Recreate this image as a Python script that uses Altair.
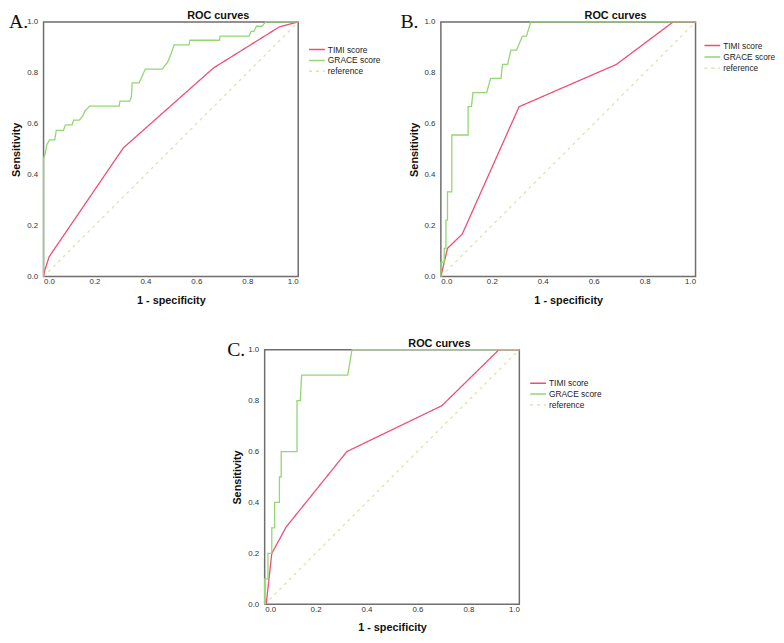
import altair as alt
import pandas as pd

series_names = ["TIMI score", "GRACE score", "reference"]
series_colors = ["#EF4D76", "#93D672", "#DEE2B0"]
series_dash = [[1, 0], [1, 0], [3, 4]]
panel_labels = ["A.", "B.", "C."]
panel_title = "ROC curves"
x_title = "1 - specificity"
y_title = "Sensitivity"
tick_values = [0.0, 0.2, 0.4, 0.6, 0.8, 1.0]
ref_x = [0.0, 1.0]
ref_y = [0.0, 1.0]

# Panel A
a_timi_x = [0.0, 0.005, 0.022, 0.313, 0.667, 0.925, 1.0]
a_timi_y = [0.0, 0.025, 0.078, 0.505, 0.819, 0.98, 1.0]
a_grace_x = [0.0, 0.0, 0.006, 0.013, 0.024, 0.044, 0.05, 0.078, 0.086, 0.112, 0.118,
             0.14, 0.155, 0.162, 0.181, 0.297, 0.3, 0.338, 0.345, 0.348, 0.375, 0.40,
             0.466, 0.487, 0.50, 0.513, 0.571, 0.575, 0.691, 0.693, 0.807, 0.815,
             0.826, 0.836, 0.858, 0.872, 1.0]
a_grace_y = [0.0, 0.466, 0.48, 0.518, 0.537, 0.537, 0.574, 0.574, 0.596, 0.596, 0.614,
             0.614, 0.632, 0.65, 0.669, 0.669, 0.689, 0.689, 0.705, 0.761, 0.761, 0.815,
             0.815, 0.841, 0.873, 0.91, 0.91, 0.928, 0.928, 0.944, 0.944, 0.963,
             0.963, 0.983, 0.983, 1.0, 1.0]

# Panel B
b_timi_x = [0.0, 0.026, 0.084, 0.307, 0.689, 0.912, 1.0]
b_timi_y = [0.0, 0.111, 0.167, 0.667, 0.833, 1.0, 1.0]
b_grace_x = [0.0, 0.0, 0.013, 0.013, 0.02, 0.02, 0.026, 0.026, 0.043, 0.043, 0.107,
             0.107, 0.12, 0.126, 0.18, 0.195, 0.236, 0.242, 0.262, 0.275, 0.297,
             0.32, 0.336, 0.353, 1.0]
b_grace_y = [0.0, 0.056, 0.056, 0.111, 0.111, 0.222, 0.222, 0.333, 0.333, 0.556, 0.556,
             0.667, 0.667, 0.722, 0.722, 0.778, 0.778, 0.833, 0.833, 0.889, 0.889,
             0.944, 0.944, 1.0, 1.0]

# Panel C
c_timi_x = [0.006, 0.028, 0.084, 0.323, 0.696, 0.92, 1.0]
c_timi_y = [0.0, 0.2, 0.303, 0.6, 0.78, 1.0, 1.0]
c_grace_x = [0.0, 0.0, 0.013, 0.013, 0.028, 0.028, 0.039, 0.039, 0.058, 0.058, 0.065,
             0.065, 0.127, 0.127, 0.14, 0.145, 0.326, 0.343, 1.0]
c_grace_y = [0.0, 0.1, 0.1, 0.2, 0.2, 0.3, 0.3, 0.4, 0.4, 0.5, 0.5,
             0.6, 0.6, 0.8, 0.8, 0.9, 0.9, 1.0, 1.0]

FONT = "Liberation Sans"

color_scale = alt.Scale(domain=series_names, range=series_colors)
dash_scale = alt.Scale(domain=series_names, range=series_dash)


def panel(label, timi_x, timi_y, grace_x, grace_y, leg_x, leg_y0, leg_y1, label_dx, leg_font):
    rows = []
    for name, xs, ys in [(series_names[2], ref_x, ref_y),
                         (series_names[0], timi_x, timi_y),
                         (series_names[1], grace_x, grace_y)]:
        for i, (xv, yv) in enumerate(zip(xs, ys)):
            rows.append({"fpr": xv, "tpr": yv, "series": name, "idx": i})
    df = pd.DataFrame(rows)
    lines = alt.Chart(df).mark_line(strokeWidth=1.3).encode(
        x=alt.X("fpr:Q", scale=alt.Scale(domain=[0, 1], nice=False),
                axis=alt.Axis(values=tick_values, format=".1f", grid=False, ticks=False,
                              domain=False, labelFontSize=8, labelColor="#333333",
                              labelPadding=1, labelFont=FONT, titleFont=FONT,
                              titleFontSize=11, titleFontWeight="bold",
                              titleColor="#111111", titlePadding=9),
                title=x_title),
        y=alt.Y("tpr:Q", scale=alt.Scale(domain=[0, 1], nice=False),
                axis=alt.Axis(values=tick_values, format=".1f", grid=False, ticks=False,
                              domain=False, labelFontSize=8, labelColor="#333333",
                              labelPadding=6, labelFont=FONT, titleFont=FONT,
                              titleFontSize=11, titleFontWeight="bold",
                              titleColor="#111111", titlePadding=5),
                title=y_title),
        color=alt.Color("series:N", scale=color_scale, legend=None),
        strokeDash=alt.StrokeDash("series:N", scale=dash_scale, legend=None),
        order="idx:Q",
    )
    leg_df = pd.DataFrame({"series": series_names})
    leg_y = alt.Y("series:N", axis=None,
                  scale=alt.Scale(type="point", domain=series_names,
                                  range=[leg_y0, leg_y1], padding=0))
    leg_rules = alt.Chart(leg_df).mark_rule(strokeWidth=1.5).encode(
        x=alt.value(leg_x), x2=alt.value(leg_x + 16), y=leg_y,
        color=alt.Color("series:N", scale=color_scale, legend=None),
        strokeDash=alt.StrokeDash("series:N", scale=dash_scale, legend=None),
    )
    leg_text = alt.Chart(leg_df).mark_text(
        align="left", baseline="middle", font=FONT, fontSize=leg_font, color="#222222"
    ).encode(x=alt.value(leg_x + 19), y=leg_y, text="series:N")
    lab = alt.Chart(pd.DataFrame({"t": [label]})).mark_text(
        font="Liberation Serif", fontSize=20, align="left", baseline="alphabetic",
        color="#111111").encode(text="t:N", x=alt.value(label_dx), y=alt.value(6))
    ttl = alt.Chart(pd.DataFrame({"t": [panel_title]})).mark_text(
        font=FONT, fontSize=11, fontWeight="bold", align="center", baseline="alphabetic",
        color="#111111").encode(text="t:N", x=alt.value(177), y=alt.value(-2.5))
    return alt.layer(lines, leg_rules, leg_text, lab, ttl).resolve_scale(
        y="independent").properties(width=258, height=258)


pa = panel(panel_labels[0], a_timi_x, a_timi_y, a_grace_x, a_grace_y, 269, 28, 50, -35, 8.5)
pb = panel(panel_labels[1], b_timi_x, b_timi_y, b_grace_x, b_grace_y, 267, 24, 47, -41, 8.4)
pc = panel(panel_labels[2], c_timi_x, c_timi_y, c_grace_x, c_grace_y, 269, 34, 56, -38, 8.5)

spacer = alt.Chart(pd.DataFrame({"a": [0]})).mark_point(opacity=0).properties(
    width=185, height=10, view=alt.ViewBackground(strokeOpacity=0))

row1 = alt.hconcat(pa, pb, spacing=17.5).resolve_scale(color="independent", strokeDash="independent")
row2 = alt.hconcat(spacer, pc, spacing=0).resolve_scale(color="independent", strokeDash="independent")

chart = alt.vconcat(row1, row2, spacing=31).resolve_scale(
    color="independent", strokeDash="independent"
).properties(padding={"left": 0, "top": -3, "right": 0, "bottom": 0}).configure_view(
    stroke="#6E6E6E", strokeWidth=1.5)

chart.save("out.html", embed_options={"renderer": "svg", "actions": False})
